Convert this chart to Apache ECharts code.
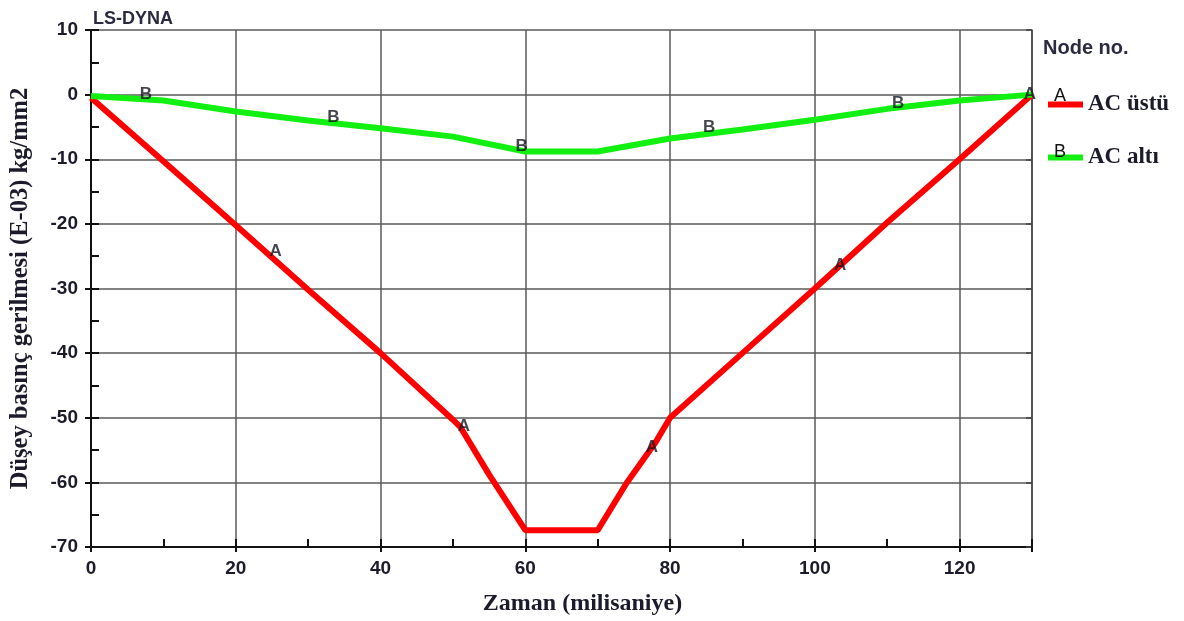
<!DOCTYPE html>
<html>
<head>
<meta charset="utf-8">
<script src="https://cdn.jsdelivr.net/npm/echarts@6/dist/echarts.min.js"></script>
<style>html,body{margin:0;padding:0;background:#fff;}#c{width:1184px;height:621px;}</style>
</head>
<body>
<div id="c"></div>
<script>
// ---- data ----
var timeA = [0, 10, 20, 30, 40, 50, 51, 55, 60, 70, 74, 78, 80, 90, 100, 110, 120, 130];
var valuesA = [-0.5, -10.3, -20.2, -30.2, -40, -50.3, -51.4, -58.8, -67.4, -67.4, -60.1, -53.8, -50, -40, -30, -19.8, -10, 0];
var timeB = [0, 10, 20, 30, 40, 50, 60, 70, 80, 90, 100, 110, 120, 130];
var valuesB = [-0.2, -0.9, -2.6, -4.0, -5.2, -6.5, -8.8, -8.8, -6.8, -5.4, -3.9, -2.2, -0.9, 0];
var labelTimeA = [25.5, 51.5, 77.5, 103.5, 129.7];
var labelValA = [-24.2, -51.3, -54.5, -26.4, 0];
var labelTimeB = [7.6, 33.5, 59.5, 85.4, 111.5];
var labelValB = [0, -3.5, -8, -5, -1.3];
var xTicks = [0, 20, 40, 60, 80, 100, 120];
var yTicks = [-70, -60, -50, -40, -30, -20, -10, 0, 10];
var seriesNames = ['AC üstü', 'AC altı'];
var seriesLetters = ['A', 'B'];
var titleText = 'LS-DYNA';
var xName = 'Zaman (milisaniye)';
var yName = 'Düşey basınç gerilmesi (E-03) kg/mm2';
var legendTitle = 'Node no.';

function zip(a, b) { return a.map(function (v, i) { return [v, b[i]]; }); }

var txt = '#1b1b2b';
var sans = '"Liberation Sans", Arial, sans-serif';
var serif = '"Liberation Serif", "Times New Roman", serif';

var chart = echarts.init(document.getElementById('c'), null, { renderer: 'canvas' });

var option = {
  backgroundColor: '#fff',
  animation: false,
  title: {
    text: titleText, left: 88, top: 5,
    textStyle: { fontFamily: sans, fontSize: 18, fontWeight: 'bold', color: '#2a2a40' }
  },
  legend: {
    orient: 'vertical', left: 1043, top: 88, itemWidth: 35, itemHeight: 6, itemGap: 30,
    icon: 'rect',
    data: seriesNames,
    textStyle: { fontFamily: serif, fontSize: 23, fontWeight: 'bold', color: txt, padding: [0, 0, 7, 0] },
    selectedMode: false
  },
  graphic: [
    { type: 'text', left: 1043, top: 38, style: { text: legendTitle, fontFamily: sans, fontSize: 20, fontWeight: 'bold', fill: '#2a2a40' } },
    { type: 'text', left: 1054, top: 87, z: 200, style: { text: seriesLetters[0], fontFamily: sans, fontSize: 18, fill: '#111' } },
    { type: 'text', left: 1054, top: 143, z: 200, style: { text: seriesLetters[1], fontFamily: sans, fontSize: 18, fill: '#111' } }
  ],
  grid: { left: 90, right: 152, top: 30, bottom: 74, containLabel: false },
  xAxis: [
    {
      type: 'value', min: 0, max: 130, interval: 20,
      name: xName, nameLocation: 'middle', nameGap: 45,
      nameTextStyle: { fontFamily: serif, fontSize: 24, fontWeight: 'bold', color: txt, padding: [0, 0, 0, 42] },
      axisLine: { show: true, onZero: false, lineStyle: { color: '#111', width: 2 } },
      axisTick: { show: true, inside: false, length: 5, lineStyle: { color: '#111', width: 2 } },
      axisLabel: {
        fontFamily: sans, fontSize: 19, fontWeight: 'bold', color: txt, margin: 12,
        formatter: function (v) { return xTicks.indexOf(v) >= 0 ? String(v) : ''; }
      },
      splitLine: { show: true, lineStyle: { color: '#5a5a5a', width: 1.5 } }
    },
    {
      type: 'value', min: 0, max: 130, interval: 10, position: 'bottom',
      axisLine: { show: false, onZero: false },
      axisTick: { show: true, inside: true, length: 8, lineStyle: { color: '#111', width: 2 } },
      axisLabel: { show: false }, splitLine: { show: false }
    }
  ],
  yAxis: [
    {
      type: 'value', min: -70, max: 10, interval: 10,
      name: yName, nameLocation: 'middle', nameGap: 58, nameRotate: 90,
      nameTextStyle: { fontFamily: serif, fontSize: 24.5, fontWeight: 'bold', color: txt },
      axisLine: { show: true, onZero: false, lineStyle: { color: '#111', width: 2 } },
      axisTick: { show: true, inside: false, length: 6, lineStyle: { color: '#111', width: 2 } },
      axisLabel: {
        fontFamily: sans, fontSize: 19, fontWeight: 'bold', color: txt, margin: 13,
        formatter: function (v) { return yTicks.indexOf(v) >= 0 ? String(v) : ''; }
      },
      splitLine: { show: true, lineStyle: { color: '#5a5a5a', width: 1.5 } }
    },
    {
      type: 'value', min: -70, max: 10, interval: 5, position: 'left',
      axisLine: { show: false, onZero: false },
      axisTick: { show: true, inside: true, length: 8, lineStyle: { color: '#111', width: 2 } },
      axisLabel: { show: false }, splitLine: { show: false }
    },
    {
      type: 'value', min: -70, max: 10, interval: 10, position: 'right',
      axisLine: { show: true, onZero: false, lineStyle: { color: '#444', width: 1.5 } },
      axisTick: { show: true, inside: true, length: 6, lineStyle: { color: '#444', width: 1.5 } },
      axisLabel: { show: false }, splitLine: { show: false }
    }
  ],
  series: [
    {
      name: seriesNames[0], type: 'line', data: zip(timeA, valuesA),
      showSymbol: false, symbol: 'none', color: '#ff0000',
      lineStyle: { color: '#ff0000', width: 6 }, z: 3
    },
    {
      name: seriesNames[1], type: 'line', data: zip(timeB, valuesB),
      showSymbol: false, symbol: 'none', color: '#11f011',
      lineStyle: { color: '#11f011', width: 6 }, z: 3
    },
    {
      type: 'scatter', data: zip(labelTimeA, labelValA), symbolSize: 2,
      itemStyle: { color: 'rgba(0,0,0,0)' }, z: 5, silent: true,
      label: { show: true, position: 'inside', formatter: seriesLetters[0], fontFamily: sans, fontSize: 17, fontWeight: 'bold', color: '#151520' }
    },
    {
      type: 'scatter', data: zip(labelTimeB, labelValB), symbolSize: 2,
      itemStyle: { color: 'rgba(0,0,0,0)' }, z: 5, silent: true,
      label: { show: true, position: 'inside', formatter: seriesLetters[1], fontFamily: sans, fontSize: 17, fontWeight: 'bold', color: '#151520' }
    }
  ]
};
chart.setOption(option);
</script>
</body>
</html>
